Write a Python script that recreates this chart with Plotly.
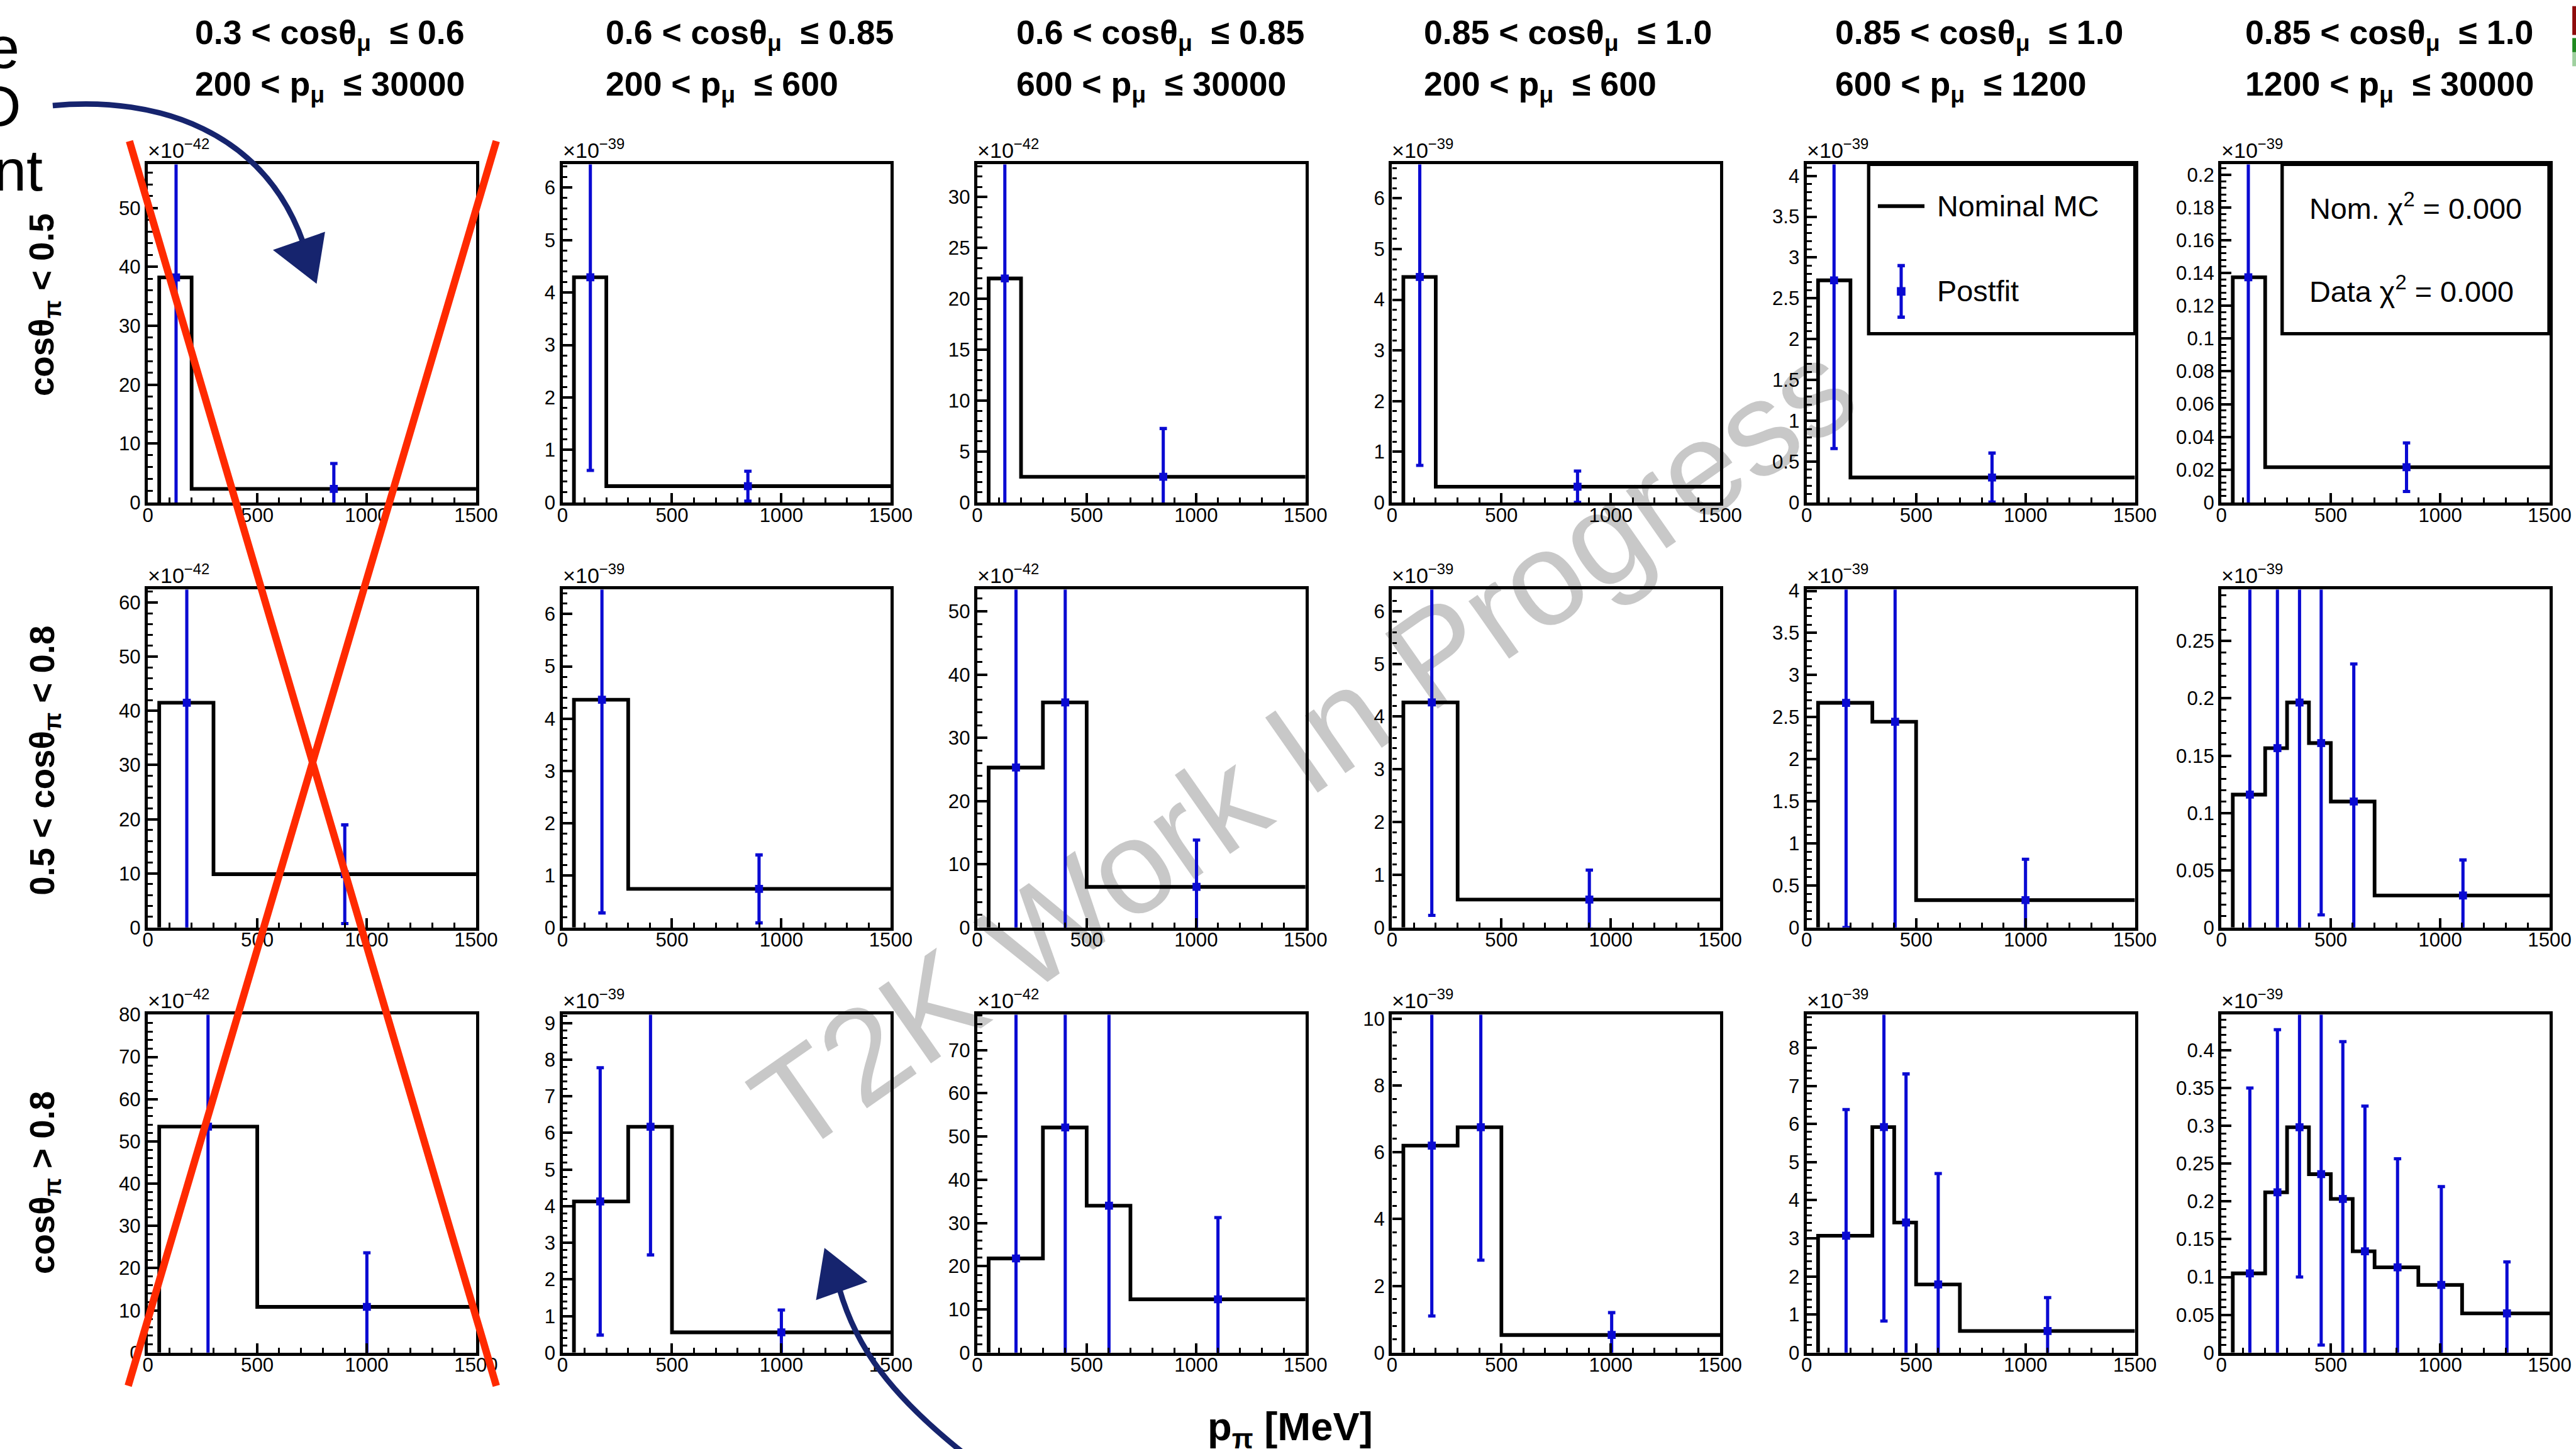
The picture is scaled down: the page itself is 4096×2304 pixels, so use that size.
import math
import plotly.graph_objects as go

# ---------------------------------------------------------------------------
# Page geometry (design units are 4199 x 2362, drawn at 0.975 scale)
# ---------------------------------------------------------------------------
REF_W, REF_H = 4199, 2362
SCALE = 0.975
FIG_W, FIG_H = 4096, 2304
FONT = "Liberation Sans, Arial, Helvetica, sans-serif"
BLUE = "#0a0ad2"
NAVY = "#16246e"
RED = "#ff2a00"
GREY = "#c8c8c8"


def fx(x):
    return x / REF_W


def fy(y):
    return 1 - y / REF_H


def s(v):
    return v * SCALE


# ---------------------------------------------------------------------------
# Binning labels
# ---------------------------------------------------------------------------
COS_MU_LO = ["0.3", "0.6", "0.6", "0.85", "0.85", "0.85"]
COS_MU_HI = ["0.6", "0.85", "0.85", "1.0", "1.0", "1.0"]
P_MU_LO = ["200", "200", "600", "200", "600", "1200"]
P_MU_HI = ["30000", "600", "30000", "600", "1200", "30000"]
ROW_LABELS = ["cosθ<sub>π</sub> &lt; 0.5",
              "0.5 &lt; cosθ<sub>π</sub> &lt; 0.8",
              "cosθ<sub>π</sub> &gt; 0.8"]
X_TICKS = [0, 500, 1000, 1500]

# ---------------------------------------------------------------------------
# Cross sections per p_pi bin (value in units of 10^EXP).
# EDGES: p_pi bin edges [MeV]; MC: nominal MC; PX: postfit point position;
# ERR: postfit uncertainty. Postfit central values equal the nominal MC.
# ---------------------------------------------------------------------------
# cos(theta_pi) < 0.5
A1_EDGES = [52, 200, 1500]; A1_MC = [38.2, 2.3]; A1_PX = [129, 850]; A1_ERR = [40.0, 4.3]
A2_EDGES = [52, 200, 1500]; A2_MC = [4.29, 0.31]; A2_PX = [127, 847]; A2_ERR = [3.68, 0.285]
A3_EDGES = [52, 200, 1500]; A3_MC = [22.0, 2.52]; A3_PX = [126, 850]; A3_ERR = [24.0, 4.74]
A4_EDGES = [52, 200, 1500]; A4_MC = [4.45, 0.31]; A4_PX = [127, 848]; A4_ERR = [3.72, 0.31]
A5_EDGES = [52, 200, 1500]; A5_MC = [2.72, 0.305]; A5_PX = [125, 847]; A5_ERR = [2.06, 0.30]
A6_EDGES = [52, 200, 1500]; A6_MC = [0.1374, 0.0215]; A6_PX = [123, 846]; A6_ERR = [0.16, 0.0148]

# 0.5 < cos(theta_pi) < 0.8
B1_EDGES = [52, 300, 1500]; B1_MC = [41.5, 9.85]; B1_PX = [178, 900]; B1_ERR = [45.0, 9.1]
B2_EDGES = [52, 300, 1500]; B2_MC = [4.36, 0.74]; B2_PX = [180, 898]; B2_ERR = [4.08, 0.65]
B3_EDGES = [52, 300, 500, 1500]; B3_MC = [25.3, 35.6, 6.43]; B3_PX = [177, 402, 1002]; B3_ERR = [30.0, 40.0, 7.4]
B4_EDGES = [52, 300, 1500]; B4_MC = [4.27, 0.53]; B4_PX = [182, 902]; B4_ERR = [4.04, 0.56]
B5_EDGES = [52, 300, 500, 1500]; B5_MC = [2.67, 2.445, 0.326]; B5_PX = [180, 404, 1000]; B5_ERR = [2.67, 2.5, 0.485]
B6_EDGES = [52, 200, 300, 400, 500, 700, 1500]
B6_MC = [0.116, 0.1566, 0.1964, 0.161, 0.11, 0.028]
B6_PX = [130, 256, 357, 456, 605, 1104]
B6_ERR = [0.2, 0.2, 0.22, 0.15, 0.12, 0.031]

# cos(theta_pi) > 0.8
C1_EDGES = [52, 500, 1500]; C1_MC = [53.5, 10.85]; C1_PX = [275, 1001]; C1_ERR = [56.0, 12.8]
C2_EDGES = [52, 300, 500, 1500]; C2_MC = [4.13, 6.17, 0.556]; C2_PX = [172, 402, 1000]; C2_ERR = [3.65, 3.5, 0.61]
C3_EDGES = [52, 300, 500, 700, 1500]; C3_MC = [21.8, 52.1, 34.0, 12.35]; C3_PX = [177, 402, 602, 1100]; C3_ERR = [60.0, 60.0, 50.0, 18.9]
C4_EDGES = [52, 300, 500, 1500]; C4_MC = [6.2, 6.75, 0.53]; C4_PX = [182, 406, 1004]; C4_ERR = [5.1, 3.98, 0.67]
C5_EDGES = [52, 300, 400, 500, 700, 1500]; C5_MC = [3.07, 5.92, 3.415, 1.79, 0.57]
C5_PX = [180, 353, 454, 601, 1101]; C5_ERR = [3.31, 5.09, 3.9, 2.91, 0.875]
C6_EDGES = [52, 200, 300, 400, 500, 600, 700, 900, 1100, 1500]
C6_MC = [0.1048, 0.212, 0.298, 0.236, 0.2032, 0.134, 0.1128, 0.0896, 0.052]
C6_PX = [130, 256, 357, 456, 555, 656, 805, 1005, 1305]
C6_ERR = [0.245, 0.215, 0.198, 0.226, 0.208, 0.192, 0.1436, 0.13, 0.068]

PANELS = [
    [(A1_EDGES, A1_MC, A1_PX, A1_ERR), (A2_EDGES, A2_MC, A2_PX, A2_ERR),
     (A3_EDGES, A3_MC, A3_PX, A3_ERR), (A4_EDGES, A4_MC, A4_PX, A4_ERR),
     (A5_EDGES, A5_MC, A5_PX, A5_ERR), (A6_EDGES, A6_MC, A6_PX, A6_ERR)],
    [(B1_EDGES, B1_MC, B1_PX, B1_ERR), (B2_EDGES, B2_MC, B2_PX, B2_ERR),
     (B3_EDGES, B3_MC, B3_PX, B3_ERR), (B4_EDGES, B4_MC, B4_PX, B4_ERR),
     (B5_EDGES, B5_MC, B5_PX, B5_ERR), (B6_EDGES, B6_MC, B6_PX, B6_ERR)],
    [(C1_EDGES, C1_MC, C1_PX, C1_ERR), (C2_EDGES, C2_MC, C2_PX, C2_ERR),
     (C3_EDGES, C3_MC, C3_PX, C3_ERR), (C4_EDGES, C4_MC, C4_PX, C4_ERR),
     (C5_EDGES, C5_MC, C5_PX, C5_ERR), (C6_EDGES, C6_MC, C6_PX, C6_ERR)],
]

# y-axis ranges, major / minor tick spacing and exponent per pad
Y_MAX = [[57.4, 6.44, 33.2, 6.67, 4.14, 0.2063],
         [62.4, 6.47, 53.45, 6.41, 4.016, 0.295],
         [80.0, 9.23, 78.2, 10.12, 8.87, 0.4468]]
Y_DTICK = [[10, 1, 5, 1, 0.5, 0.02],
           [10, 1, 10, 1, 0.5, 0.05],
           [10, 1, 10, 2, 1, 0.05]]
Y_MINOR = [[2, 0.2, 1, 0.2, 0.1, 0.004],
           [2, 0.2, 2, 0.2, 0.1, 0.01],
           [2, 0.2, 2, 0.4, 0.2, 0.01]]
EXPONENT = [[-42, -39, -42, -39, -39, -39],
            [-42, -39, -42, -39, -39, -39],
            [-42, -39, -42, -39, -39, -39]]

# ---------------------------------------------------------------------------
# Pad placement
# ---------------------------------------------------------------------------
COL_LEFT = [241 + 676 * c for c in range(6)]
PANEL_W = 535
ROW_TOP = [268, 961, 1654]
PANEL_H = 551
TITLE_LEFT = [316, 985, 1655, 2319, 2989, 3658]

fig = go.Figure()
layout_axes = {}
annotations = []
shapes = []

tick_font = dict(family=FONT, size=s(32), color="black")

for r in range(3):
    for c in range(6):
        k = r * 6 + c + 1
        left, top = COL_LEFT[c], ROW_TOP[r]
        edges, mc, pxs, err = PANELS[r][c]
        xname = "x" if k == 1 else f"x{k}"
        yname = "y" if k == 1 else f"y{k}"

        common = dict(
            showline=True, mirror=True, linecolor="black", linewidth=s(5.5),
            ticks="inside", tickcolor="black", tickwidth=s(4),
            showgrid=False, zeroline=False, tickfont=tick_font,
            fixedrange=True, layer="above traces", automargin=False,
        )
        layout_axes["xaxis" if k == 1 else f"xaxis{k}"] = dict(
            common,
            domain=[fx(left), fx(left + PANEL_W)], anchor=yname,
            range=[0, 1500], tickmode="array", tickvals=X_TICKS,
            ticklen=s(15), ticklabelstandoff=-12,
            minor=dict(ticks="inside", tickmode="linear", tick0=0, dtick=100,
                       ticklen=s(8), tickwidth=s(3), tickcolor="black",
                       showgrid=False),
        )
        layout_axes["yaxis" if k == 1 else f"yaxis{k}"] = dict(
            common,
            domain=[fy(top + PANEL_H), fy(top)], anchor=xname,
            range=[0, Y_MAX[r][c]], tickmode="linear", tick0=0,
            dtick=Y_DTICK[r][c], ticklen=s(16),
            minor=dict(ticks="inside", tickmode="linear", tick0=0,
                       dtick=Y_MINOR[r][c], ticklen=s(8), tickwidth=s(3),
                       tickcolor="black", showgrid=False),
        )

        # nominal MC histogram outline
        hx = [edges[0]] + list(edges)
        hy = [0] + list(mc) + [mc[-1]]
        fig.add_trace(go.Scatter(
            x=hx, y=hy, mode="lines", line=dict(color="black", width=s(6), shape="hv"),
            xaxis=xname, yaxis=yname, showlegend=False, hoverinfo="skip",
        ))
        # postfit points
        fig.add_trace(go.Scatter(
            x=pxs, y=mc, mode="markers",
            marker=dict(symbol="square", size=s(13), color=BLUE, line=dict(width=0)),
            error_y=dict(type="data", array=err, symmetric=True, color=BLUE,
                         thickness=s(5.2), width=s(6)),
            xaxis=xname, yaxis=yname, showlegend=False,
        ))

        # exponent label above the pad
        annotations.append(dict(
            x=fx(left - 2), y=fy(top - 1), xref="paper", yref="paper",
            xanchor="left", yanchor="bottom", showarrow=False,
            text=f"×10<sup>−{abs(EXPONENT[r][c])}</sup>",
            font=dict(family=FONT, size=s(35), color="black"),
        ))

# column headers
for c in range(6):
    annotations.append(dict(
        x=fx(TITLE_LEFT[c]), y=fy(56), xref="paper", yref="paper",
        xanchor="left", yanchor="middle", showarrow=False,
        text=f"<b>{COS_MU_LO[c]} &lt; cosθ<sub>μ</sub>\u00a0\u00a0≤ {COS_MU_HI[c]}</b>",
        font=dict(family=FONT, size=s(55), color="black"),
    ))
    annotations.append(dict(
        x=fx(TITLE_LEFT[c]), y=fy(140), xref="paper", yref="paper",
        xanchor="left", yanchor="middle", showarrow=False,
        text=f"<b>{P_MU_LO[c]} &lt; p<sub>μ</sub>\u00a0\u00a0≤ {P_MU_HI[c]}</b>",
        font=dict(family=FONT, size=s(55), color="black"),
    ))

# row headers
ROW_CENTER = [497, 1240, 1928]
for r in range(3):
    annotations.append(dict(
        x=fx(72), y=fy(ROW_CENTER[r]), xref="paper", yref="paper",
        xanchor="center", yanchor="middle", showarrow=False, textangle=-90,
        text=f"<b>{ROW_LABELS[r]}</b>",
        font=dict(family=FONT, size=s(56), color="black"),
    ))

# common x title
annotations.append(dict(
    x=fx(1966), y=fy(2330), xref="paper", yref="paper",
    xanchor="left", yanchor="middle", showarrow=False,
    text="<b>p<sub>π</sub> [MeV]</b>",
    font=dict(family=FONT, size=s(65), color="black"),
))

# slide text running in from the left edge
for txt, xr, yc in [("e", 34, 77), ("D", 37, 173), ("nt", 72, 277)]:
    annotations.append(dict(
        x=fx(xr), y=fy(yc), xref="paper", yref="paper",
        xanchor="right", yanchor="middle", showarrow=False, text=txt,
        font=dict(family=FONT, size=s(96), color="black"),
    ))

# legend box (pad 5, row 1)
LEG_L, LEG_R, LEG_T, LEG_B = 3046, 3480, 268, 544
shapes.append(dict(type="rect", xref="paper", yref="paper",
                   x0=fx(LEG_L), x1=fx(LEG_R), y0=fy(LEG_B), y1=fy(LEG_T),
                   line=dict(color="black", width=s(5.5)), fillcolor="white", layer="above"))
shapes.append(dict(type="line", xref="paper", yref="paper",
                   x0=fx(3061), x1=fx(3137), y0=fy(336), y1=fy(336),
                   line=dict(color="black", width=s(6)), layer="above"))
shapes.append(dict(type="line", xref="paper", yref="paper",
                   x0=fx(3099), x1=fx(3099), y0=fy(433), y1=fy(517),
                   line=dict(color=BLUE, width=s(5.2)), layer="above"))
for yy in (433, 517):
    shapes.append(dict(type="line", xref="paper", yref="paper",
                       x0=fx(3093), x1=fx(3105), y0=fy(yy), y1=fy(yy),
                       line=dict(color=BLUE, width=s(5.5)), layer="above"))
shapes.append(dict(type="rect", xref="paper", yref="paper",
                   x0=fx(3092), x1=fx(3106), y0=fy(482), y1=fy(468),
                   line=dict(width=0), fillcolor=BLUE, layer="above"))
annotations.append(dict(
    x=fx(3155), y=fy(336), xref="paper", yref="paper", xanchor="left",
    yanchor="middle", showarrow=False, text="Nominal MC",
    font=dict(family=FONT, size=s(48), color="black")))
annotations.append(dict(
    x=fx(3155), y=fy(475), xref="paper", yref="paper", xanchor="left",
    yanchor="middle", showarrow=False, text="Postfit",
    font=dict(family=FONT, size=s(48), color="black")))

# chi-square box (pad 6, row 1)
shapes.append(dict(type="rect", xref="paper", yref="paper",
                   x0=fx(3720), x1=fx(4155), y0=fy(544), y1=fy(268),
                   line=dict(color="black", width=s(5.5)), fillcolor="white", layer="above"))
annotations.append(dict(
    x=fx(3762), y=fy(336), xref="paper", yref="paper", xanchor="left",
    yanchor="middle", showarrow=False, text="Nom. χ<sup>2</sup> = 0.000",
    font=dict(family=FONT, size=s(48), color="black")))
annotations.append(dict(
    x=fx(3762), y=fy(472), xref="paper", yref="paper", xanchor="left",
    yanchor="middle", showarrow=False, text="Data χ<sup>2</sup> = 0.000",
    font=dict(family=FONT, size=s(48), color="black")))

# watermark, kept beneath the pads
ang = math.radians(35)
WM_CX, WM_CY, WM_HALF = 2113, 1200, 1000
shapes.append(dict(
    type="line", xref="paper", yref="paper", layer="below",
    x0=fx(WM_CX - WM_HALF * math.cos(ang)), y0=fy(WM_CY + WM_HALF * math.sin(ang)),
    x1=fx(WM_CX + WM_HALF * math.cos(ang)), y1=fy(WM_CY - WM_HALF * math.sin(ang)),
    line=dict(color="rgba(0,0,0,0)", width=1),
    label=dict(text="T2K Work In Progress", textposition="middle",
               textangle=-35, xanchor="center", yanchor="middle", padding=0,
               font=dict(family=FONT, size=s(217), color=GREY)),
))


def path(points, close=False):
    """Cubic path through design-unit control points (M, then C triples)."""
    p = [(fx(x), fy(y)) for x, y in points]
    d = f"M {p[0][0]},{p[0][1]}"
    if close:
        for q in p[1:]:
            d += f" L {q[0]},{q[1]}"
        return d + " Z"
    for i in range(1, len(p), 3):
        d += f" C {p[i][0]},{p[i][1]} {p[i+1][0]},{p[i+1][1]} {p[i+2][0]},{p[i+2][1]}"
    return d


# hand-drawn arrows
shapes.append(dict(type="path", xref="paper", yref="paper", layer="above",
                   path=path([(86, 172), (260, 156), (430, 215), (494, 395)]),
                   line=dict(color=NAVY, width=s(9))))
shapes.append(dict(type="path", xref="paper", yref="paper", layer="above",
                   path=path([(448, 408), (528, 380), (515, 460)], close=True),
                   line=dict(color=NAVY, width=s(3)), fillcolor=NAVY))
shapes.append(dict(type="path", xref="paper", yref="paper", layer="above",
                   path=path([(1368, 2100), (1395, 2195), (1450, 2275), (1585, 2380)]),
                   line=dict(color=NAVY, width=s(9))))
shapes.append(dict(type="path", xref="paper", yref="paper", layer="above",
                   path=path([(1345, 2037), (1411, 2089), (1332, 2117)], close=True),
                   line=dict(color=NAVY, width=s(3)), fillcolor=NAVY))

# red cross over the first column
for (x0, y0, x1, y1) in [(211, 230, 809, 2259), (809, 230, 209, 2259)]:
    shapes.append(dict(type="line", xref="paper", yref="paper", layer="above",
                       x0=fx(x0), y0=fy(y0), x1=fx(x1), y1=fy(y1),
                       line=dict(color=RED, width=s(12))))

# corner marks at the upper right edge
shapes.append(dict(type="rect", xref="paper", yref="paper", layer="above",
                   x0=fx(4193), x1=fx(4199), y0=fy(57), y1=fy(10),
                   line=dict(width=0), fillcolor="#8e0b0b"))
shapes.append(dict(type="rect", xref="paper", yref="paper", layer="above",
                   x0=fx(4193), x1=fx(4199), y0=fy(85), y1=fy(62),
                   line=dict(width=0), fillcolor="#1f8a1f"))
shapes.append(dict(type="rect", xref="paper", yref="paper", layer="above",
                   x0=fx(4193), x1=fx(4199), y0=fy(108), y1=fy(85),
                   line=dict(width=0), fillcolor="#9fd09f"))

fig.update_layout(
    width=FIG_W, height=FIG_H, autosize=False,
    margin=dict(l=0, r=0, t=0, b=0, pad=0, autoexpand=False),
    paper_bgcolor="white", plot_bgcolor="rgba(0,0,0,0)",
    showlegend=False,
    annotations=annotations, shapes=shapes,
    font=dict(family=FONT, color="black"),
    **layout_axes,
)

fig.write_html("out.html")
